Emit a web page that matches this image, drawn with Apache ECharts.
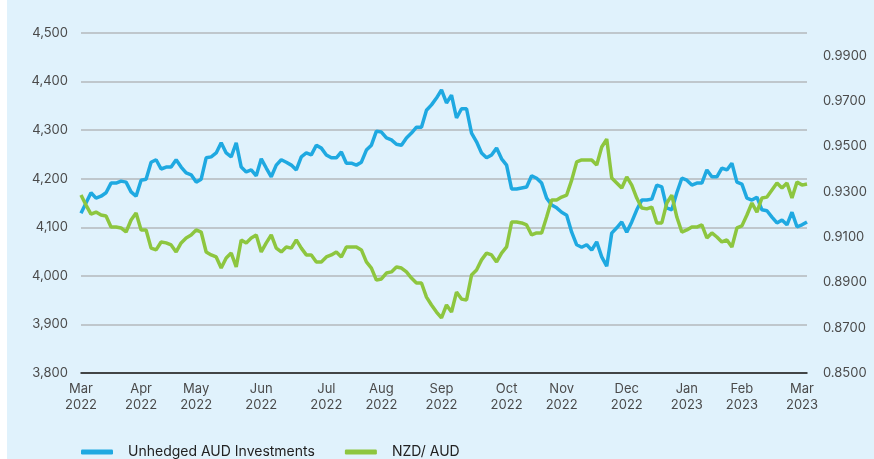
<!DOCTYPE html>
<html>
<head>
<meta charset="utf-8">
<script src="https://cdn.jsdelivr.net/npm/echarts@6/dist/echarts.min.js"></script>
<style>
  html, body { margin: 0; padding: 0; }
  body { width: 874px; height: 459px; background: linear-gradient(to right, #ffffff 0, #ffffff 7px, #E0F2FC 7px); }
  #chart { width: 874px; height: 459px; }
</style>
</head>
<body>
<div id="chart"></div>
<script>
// Month tick labels and number of observations in each month
const monthLabels = ['Mar\n2022','Apr\n2022','May\n2022','Jun\n2022','Jul\n2022','Aug\n2022','Sep\n2022','Oct\n2022','Nov\n2022','Dec\n2022','Jan\n2023','Feb\n2023','Mar\n2023'];
const monthPointCounts = [12,11,13,13,11,12,13,11,13,12,11,12,2];

// Unhedged AUD Investments (left axis)
const unhedgedAUD = [
  4129,4150,4171,4160,4164,4171,4191,4191,4195,4193,4173,4164,
  4197,4199,4234,4239,4220,4224,4224,4239,4224,4212,4208,
  4193,4199,4243,4245,4253,4274,4253,4245,4274,4224,4214,4218,4206,
  4241,4222,4204,4228,4239,4234,4228,4218,4245,4253,4249,4269,4263,
  4249,4243,4243,4255,4232,4232,4228,4234,4259,4269,4298,
  4296,4284,4280,4271,4269,4284,4294,4306,4306,4341,4352,4366,
  4383,4356,4372,4325,4344,4344,4294,4276,4253,4243,4249,4263,4241,
  4228,4179,4179,4181,4183,4206,4201,4191,4160,4146,4140,
  4131,4125,4090,4064,4059,4064,4053,4070,4039,4020,4088,4099,4111,
  4090,4111,4136,4156,4156,4158,4187,4183,4140,4136,4171,4201,
  4197,4187,4191,4191,4218,4204,4204,4222,4218,4232,4193,
  4189,4160,4156,4162,4136,4134,4121,4109,4115,4105,4131,4101,
  4105,4111
];

// NZD/ AUD (right axis)
const nzdAud = [
  0.9285,0.9241,0.9201,0.9210,0.9197,0.9193,0.9144,0.9144,0.9140,0.9122,0.9175,0.9206,
  0.9131,0.9131,0.9051,0.9043,0.9078,0.9074,0.9065,0.9034,0.9074,0.9096,0.9109,
  0.9131,0.9122,0.9034,0.9021,0.9012,0.8963,0.9007,0.9029,0.8968,0.9087,0.9074,0.9096,0.9109,
  0.9034,0.9074,0.9109,0.9051,0.9034,0.9056,0.9051,0.9087,0.9051,0.9021,0.9021,0.8990,0.8990,
  0.9012,0.9021,0.9034,0.9012,0.9056,0.9056,0.9056,0.9043,0.8990,0.8963,0.8910,
  0.8915,0.8941,0.8946,0.8968,0.8963,0.8946,0.8919,0.8897,0.8897,0.8835,0.8800,0.8769,
  0.8743,0.8800,0.8769,0.8857,0.8826,0.8822,0.8932,0.8954,0.8999,0.9029,0.9021,0.8990,0.9029,
  0.9056,0.9166,0.9166,0.9162,0.9153,0.9109,0.9118,0.9118,0.9188,0.9263,0.9263,
  0.9276,0.9285,0.9351,0.9431,0.9440,0.9440,0.9440,0.9418,0.9497,0.9532,0.9360,0.9338,0.9316,
  0.9365,0.9329,0.9272,0.9228,0.9224,0.9232,0.9162,0.9162,0.9250,0.9285,0.9188,0.9122,
  0.9131,0.9144,0.9144,0.9153,0.9096,0.9118,0.9100,0.9078,0.9087,0.9056,0.9140,
  0.9149,0.9197,0.9250,0.9210,0.9272,0.9276,0.9307,0.9338,0.9316,0.9338,0.9272,0.9343,
  0.9329,0.9334
];

// Left axis ticks
const leftMin = 3800, leftMax = 4500, leftStep = 100;
// Right axis ticks (labels every 0.02 from 0.85)
const rightMin = 0.85, rightMax = 1.0;

// Build categories: first observation of each month carries the label
const categories = [];
monthLabels.forEach((lab, m) => {
  for (let j = 0; j < monthPointCounts[m]; j++) categories.push(lab + '|' + j);
});

const fontFam = 'Inter, "Liberation Sans", Arial, sans-serif';
const chart = echarts.init(document.getElementById('chart'), null, { renderer: 'canvas' });
chart.setOption({
  backgroundColor: 'transparent',
  animation: false,
  grid: { left: 81, right: 67, top: 33, bottom: 86, containLabel: false },
  legend: {
    left: 76, top: 440,
    itemWidth: 32, itemHeight: 5, itemGap: 30,
    icon: 'roundRect',
    textStyle: { fontFamily: fontFam, fontSize: 14, color: '#222', padding: [0, 0, 0, 10] },
    data: ['Unhedged AUD Investments', 'NZD/ AUD']
  },
  xAxis: {
    type: 'category',
    data: categories,
    boundaryGap: false,
    axisLine: { show: true, lineStyle: { color: '#1a1a1a', width: 1.5 } },
    axisTick: { show: false },
    axisLabel: {
      interval: (idx, val) => val.endsWith('|0'),
      formatter: v => v.split('|')[0],
      fontFamily: fontFam, fontSize: 13, color: '#4a4a4a', lineHeight: 16, margin: 8
    },
    splitLine: { show: false }
  },
  yAxis: [
    {
      type: 'value', min: leftMin, max: leftMax, interval: leftStep,
      axisLine: { show: false }, axisTick: { show: false },
      axisLabel: {
        formatter: v => String(v).replace(/\B(?=(\d{3})+(?!\d))/g, ','),
        fontFamily: fontFam, fontSize: 13, color: '#4a4a4a', margin: 13
      },
      splitLine: { show: true, lineStyle: { color: '#B4B8BC', width: 1.5 } }
    },
    {
      type: 'value', min: rightMin, max: rightMax, interval: 0.01,
      position: 'right',
      axisLine: { show: false }, axisTick: { show: false },
      axisLabel: {
        formatter: v => (Math.round(v * 100) % 2 === 1 ? v.toFixed(4) : ''),
        fontFamily: fontFam, fontSize: 13, color: '#4a4a4a', margin: 16
      },
      splitLine: { show: false }
    }
  ],
  series: [
    {
      name: 'Unhedged AUD Investments', type: 'line', yAxisIndex: 0,
      data: unhedgedAUD, showSymbol: false, symbol: 'none',
      lineStyle: { color: '#1FA9E1', width: 3.5 }, itemStyle: { color: '#1FA9E1' }
    },
    {
      name: 'NZD/ AUD', type: 'line', yAxisIndex: 1,
      data: nzdAud, showSymbol: false, symbol: 'none',
      lineStyle: { color: '#8DC63F', width: 3.5 }, itemStyle: { color: '#8DC63F' }
    }
  ]
});
</script>
</body>
</html>
